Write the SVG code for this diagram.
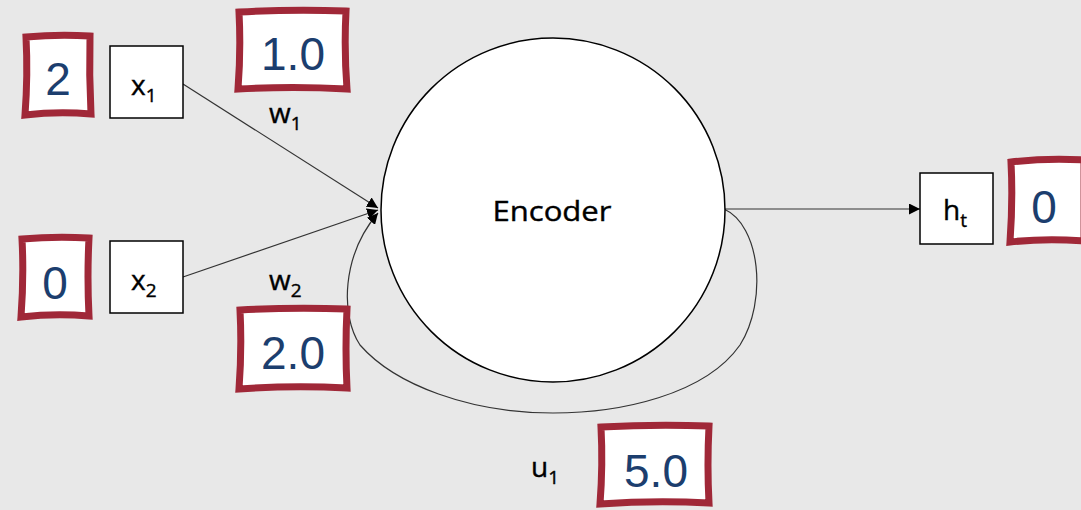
<svg xmlns="http://www.w3.org/2000/svg" width="1081" height="510" viewBox="0 0 1081 510">
<defs>
<style>
.bg{fill:#e8e8e8}
.node{fill:#fff;stroke:#000;stroke-width:1.5}
.lbl{font-family:"Open Sans","Liberation Sans",sans-serif;font-size:28px;fill:#000;stroke:#000;stroke-width:0.4}
.sub{font-size:19px}
.val{fill:#fff;stroke:#a02838;stroke-width:7;stroke-linejoin:miter}
.num{font-family:"Liberation Sans",Arial,sans-serif;font-size:46px;fill:#1c3e6e;text-anchor:middle}
.edge{fill:none;stroke:#333;stroke-width:1.2}
</style>
<marker id="arr" viewBox="0 0 10 10" refX="10" refY="5" markerWidth="11" markerHeight="11" markerUnits="userSpaceOnUse" orient="auto">
<path d="M0,0 L10,5 L0,10 z" fill="#000"/>
</marker>
</defs>
<rect class="bg" width="1081" height="510"/>
<g id="connectors">
<path class="edge" d="M183,84 L378,208" marker-end="url(#arr)"/>
<path class="edge" d="M183,277 L378,210" marker-end="url(#arr)"/>
<path class="edge" d="M724,209 C760,225 768,300 740,345 C705,395 620,413 553,413 C470,413 395,385 360,345 C340,315 342,255 378,213" marker-end="url(#arr)"/>
<path class="edge" d="M725,209 L920,209" marker-end="url(#arr)"/>
</g>
<g id="encoder">
<circle class="node" cx="553" cy="210" r="172"/>
<text class="lbl" x="552" y="221" text-anchor="middle" font-size="35" textLength="119" lengthAdjust="spacingAndGlyphs">Encoder</text>
</g>
<g id="x1">
<rect class="node" x="110" y="46" width="73" height="72"/>
<text class="lbl" x="131" y="95">x<tspan class="sub" dy="7">1</tspan></text>
</g>
<g id="x2">
<rect class="node" x="110" y="241" width="73" height="72"/>
<text class="lbl" x="131" y="290">x<tspan class="sub" dy="7">2</tspan></text>
</g>
<g id="ht">
<rect class="node" x="920" y="173" width="73" height="71"/>
<text class="lbl" x="943" y="220">h<tspan class="sub" dy="7">t</tspan></text>
</g>
<g id="w1"><text class="lbl" x="269" y="123">w<tspan class="sub" dy="7">1</tspan></text></g>
<g id="w2"><text class="lbl" x="269" y="290">w<tspan class="sub" dy="7">2</tspan></text></g>
<g id="u1"><text class="lbl" x="531" y="477">u<tspan class="sub" dy="7">1</tspan></text></g>
<g id="v-x1">
<path class="val" d="M26,37 Q58,34 90,36 Q89,75 91,114 Q58,111 25,115 Q28,75 26,37 z"/>
<text class="num" x="58" y="95">2</text>
</g>
<g id="v-w1">
<path class="val" d="M239,12 Q293,9 346,11 Q344,50 347,89 Q293,86 238,89 Q241,50 239,12 z"/>
<text class="num" x="293" y="70">1.0</text>
</g>
<g id="v-x2">
<path class="val" d="M22,239 Q55,236 89,238 Q87,277 89,316 Q55,313 21,317 Q24,277 22,239 z"/>
<text class="num" x="55" y="299">0</text>
</g>
<g id="v-w2">
<path class="val" d="M240,310 Q293,307 347,309 Q345,349 347,388 Q293,385 239,389 Q242,349 240,310 z"/>
<text class="num" x="293" y="369">2.0</text>
</g>
<g id="v-u1">
<path class="val" d="M601,427 Q655,424 709,426 Q707,465 709,503 Q655,500 600,504 Q603,465 601,427 z"/>
<text class="num" x="656" y="487">5.0</text>
</g>
<g id="v-ht">
<path class="val" d="M1011,162 Q1046,158 1084,160 Q1084,200 1084,241 Q1046,238 1010,242 Q1013,200 1011,162 z"/>
<text class="num" x="1044" y="223">0</text>
</g>
</svg>
